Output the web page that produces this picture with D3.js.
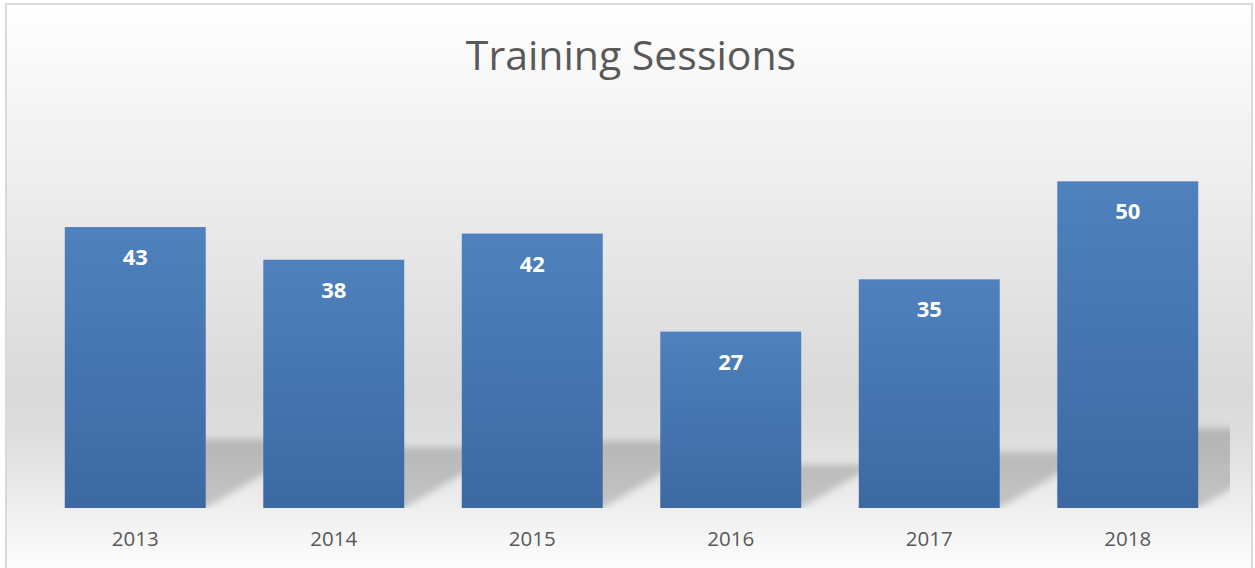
<!DOCTYPE html>
<html>
<head>
    <meta charset="utf-8">
    <title>Training Sessions</title>
    <script src="https://cdn.jsdelivr.net/npm/d3@7/dist/d3.min.js"></script>
    <style>
        body { margin: 0; background: #fff; }
        svg { display: block; font-family: "Open Sans", sans-serif; }
    </style>
</head>
<body>
    <svg width="1255" height="568" id="mainsvg"></svg>
    <script>
        // data
        const years = ['2013', '2014', '2015', '2016', '2017', '2018'];
        const sessions = [43, 38, 42, 27, 35, 50];
        const yDomain = [0, 60];
        const title = 'Training Sessions';

        const svg = d3.select('#mainsvg');
        const plot = { left: 36, right: 1227, top: 116, bottom: 508 };
        const shadowRight = 1230;

        const defs = svg.append('defs');

        // chart area background: white -> grey -> white
        const bg = defs.append('linearGradient').attr('id', 'bgGrad')
            .attr('x1', 0).attr('y1', 0).attr('x2', 0).attr('y2', 1);
        bg.append('stop').attr('offset', '0%').attr('stop-color', '#ffffff');
        bg.append('stop').attr('offset', '68%').attr('stop-color', '#d9d9d9');
        bg.append('stop').attr('offset', '76%').attr('stop-color', '#dedede');
        bg.append('stop').attr('offset', '100%').attr('stop-color', '#ffffff');

        const barGrad = defs.append('linearGradient').attr('id', 'barGrad')
            .attr('x1', 0).attr('y1', 0).attr('x2', 0).attr('y2', 1);
        barGrad.append('stop').attr('offset', '0%').attr('stop-color', '#4e81bd');
        barGrad.append('stop').attr('offset', '100%').attr('stop-color', '#3c69a2');

        defs.append('filter').attr('id', 'blur')
            .attr('x', '-20%').attr('y', '-20%').attr('width', '140%').attr('height', '140%')
            .append('feGaussianBlur').attr('stdDeviation', 3.5);

        defs.append('clipPath').attr('id', 'plotClip')
            .append('rect')
            .attr('x', plot.left).attr('y', plot.top)
            .attr('width', shadowRight - plot.left).attr('height', plot.bottom - plot.top);

        svg.append('rect')
            .attr('x', 6).attr('y', 4).attr('width', 1246).attr('height', 572)
            .attr('fill', 'url(#bgGrad)')
            .attr('stroke', '#d9d9d9').attr('stroke-width', 2);

        const xScale = d3.scaleBand()
            .domain(years)
            .range([plot.left, plot.right])
            .paddingInner(0.29)
            .paddingOuter(0.145);

        const yScale = d3.scaleLinear()
            .domain(yDomain)
            .range([plot.bottom, plot.top]);

        const data = years.map((y, i) => ({ year: y, value: sessions[i] }));

        // perspective shadows behind the bars
        const shadowPath = d => {
            const x0 = xScale(d.year);
            const x1 = x0 + xScale.bandwidth();
            const yb = yScale(0);
            const h = (yb - yScale(d.value)) * 0.245;
            const dx = h * 1.7;
            return `M${x0},${yb} L${x1},${yb} L${x1 + dx},${yb - h} L${x0 + dx},${yb - h} Z`;
        };

        svg.append('g').attr('clip-path', 'url(#plotClip)')
            .append('g').attr('filter', 'url(#blur)')
            .selectAll('path').data(data).join('path')
            .attr('d', shadowPath)
            .attr('fill', '#000')
            .attr('fill-opacity', 0.18);

        svg.append('g').selectAll('rect').data(data).join('rect')
            .attr('x', d => xScale(d.year))
            .attr('y', d => yScale(d.value))
            .attr('width', xScale.bandwidth())
            .attr('height', d => yScale(0) - yScale(d.value))
            .attr('fill', 'url(#barGrad)');

        // value labels
        svg.append('g').selectAll('text').data(data).join('text')
            .attr('x', d => xScale(d.year) + xScale.bandwidth() / 2)
            .attr('y', d => yScale(d.value) + 38)
            .attr('text-anchor', 'middle')
            .attr('fill', '#fff')
            .attr('font-weight', 'bold')
            .attr('font-size', '22px')
            .text(d => d.value);

        // category axis
        const xAxis = d3.axisBottom(xScale).tickSize(0).tickPadding(0);
        const ax = svg.append('g').attr('transform', `translate(0, ${plot.bottom})`).call(xAxis);
        ax.select('.domain').remove();
        ax.selectAll('text')
            .attr('y', 38).attr('dy', null)
            .attr('fill', '#595959')
            .attr('font-size', '20.5px')
            .attr('font-family', '"Open Sans", sans-serif');

        svg.append('text')
            .attr('x', 631).attr('y', 70)
            .attr('text-anchor', 'middle')
            .attr('fill', '#595959')
            .attr('font-size', '41px')
            .text(title);
    </script>
</body>
</html>
